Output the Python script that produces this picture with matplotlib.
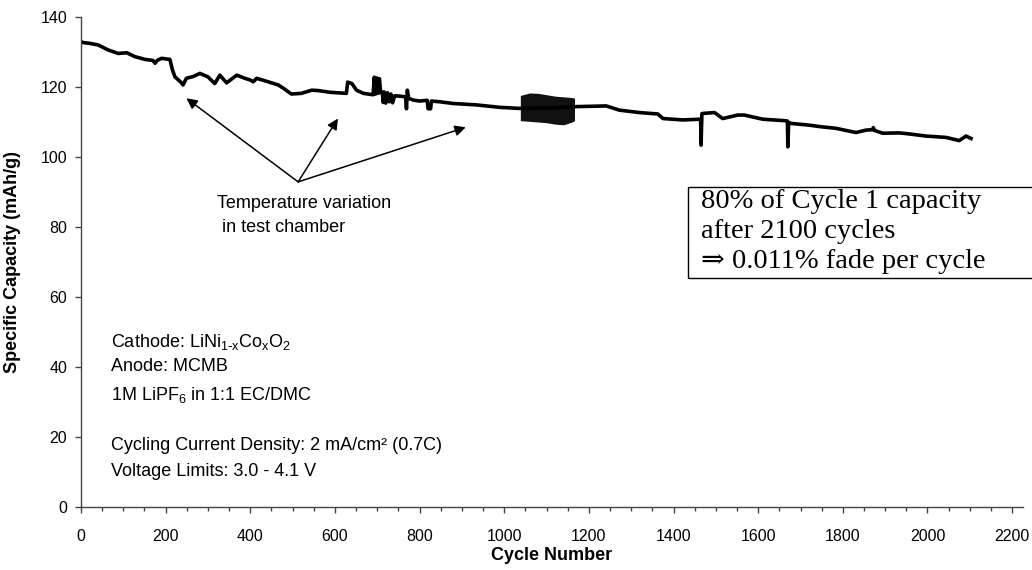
import matplotlib
matplotlib.use("Agg")
import matplotlib.pyplot as plt
from matplotlib.patches import Rectangle
from matplotlib.ticker import MultipleLocator

plt.rcParams['font.family'] = ['Liberation Sans', 'DejaVu Sans']
plt.rcParams['mathtext.default'] = 'regular'

# capacity trace (cycle, mAh/g); short excursions are the spikes
cycles = [0, 5, 20, 41, 64, 88, 108, 127, 151, 170, 175, 180, 190, 210, 216, 222, 235, 241,
          249, 265, 281, 300, 316, 328, 344, 368, 387, 400, 407, 415, 442, 466, 480, 497,
          521, 545, 560, 588, 627, 630, 640, 651, 667, 690, 693, 696, 699, 702, 705, 708,
          712, 714, 716, 720, 724, 728, 732, 736, 741, 753, 767, 769, 771, 774, 784, 800,
          818, 820, 826, 828, 847, 879, 934, 989, 1036, 1100, 1170, 1241, 1272, 1320, 1363,
          1375, 1422, 1461, 1464, 1465, 1467, 1473, 1497, 1516, 1552, 1567, 1611, 1662,
          1669, 1670, 1672, 1678, 1721, 1745, 1784, 1831, 1855, 1870, 1872, 1875, 1894,
          1933, 1957, 1996, 2044, 2075, 2091, 2103]
capacity = [133.0, 132.7, 132.5, 132.0, 130.6, 129.6, 129.8, 128.7, 127.9, 127.6, 126.8, 127.6,
            128.2, 127.9, 124.9, 122.9, 121.5, 120.6, 122.5, 123.0, 123.9, 122.9, 121.0, 123.4,
            121.2, 123.4, 122.5, 122.0, 121.5, 122.5, 121.5, 120.6, 119.5, 118.0, 118.2, 119.1,
            119.0, 118.5, 118.2, 121.4, 121.0, 119.1, 118.2, 117.8, 122.8, 118.0, 122.6, 118.2,
            122.4, 118.4, 118.5, 115.6, 118.6, 115.4, 118.4, 115.8, 118.0, 115.5, 117.5, 117.4,
            117.2, 113.8, 119.1, 116.8, 116.3, 116.0, 116.2, 113.8, 113.8, 116.0, 115.8, 115.3,
            114.9, 114.2, 113.9, 114.0, 114.4, 114.6, 113.4, 112.7, 112.3, 111.0, 110.6, 110.8,
            110.8, 103.4, 112.4, 112.5, 112.7, 111.0, 112.0, 112.0, 110.8, 110.4, 110.3, 102.9,
            109.9, 109.6, 109.1, 108.7, 108.2, 107.0, 107.7, 107.8, 108.4, 107.6, 106.8, 106.9,
            106.6, 106.0, 105.6, 104.7, 106.0, 105.3]

# dense oscillation band around cycle 1040-1166 (envelope)
band_cycles = [1038, 1060, 1080, 1100, 1120, 1140, 1160, 1166]
band_high = [117.6, 118.3, 118.2, 117.8, 117.4, 117.2, 117.0, 116.8]
band_low = [110.4, 110.2, 110.0, 109.8, 109.4, 109.2, 110.0, 110.4]

fig = plt.figure(figsize=(10.32, 5.70), dpi=100)
ax = fig.add_axes([0.0785, 0.1105, 0.9125, 0.8596])

ax.plot(cycles, capacity, color='black', lw=2.6)
ax.fill_between(band_cycles, band_low, band_high, color='#111111', lw=0)

ax.set_xlim(0, 2225)
ax.set_ylim(0, 140)
ax.xaxis.set_minor_locator(MultipleLocator(50))
ax.yaxis.set_major_locator(MultipleLocator(20))
ax.set_xticks(range(0, 2201, 200))
ax.spines['top'].set_visible(False)
ax.spines['right'].set_visible(False)
for s in ['left', 'bottom']:
    ax.spines[s].set_color('#444444')
    ax.spines[s].set_linewidth(1.0)
ax.tick_params(axis='x', which='major', length=4, width=1, color='#444444', pad=12, labelsize=11.5)
ax.tick_params(axis='x', which='minor', length=3, width=1, color='#444444')
ax.tick_params(axis='y', which='major', length=4, width=1, color='#444444', pad=6, labelsize=11.5)

ax.set_xlabel("Cycle Number", fontsize=13, fontweight='bold', labelpad=2)
ax.set_ylabel("Specific Capacity (mAh/g)", fontsize=13, fontweight='bold', labelpad=14)

# annotation about temperature variation
ax.text(321, 86.6, "Temperature variation", fontsize=13, va='center', ha='left')
ax.text(332, 80.0, "in test chamber", fontsize=13, va='center', ha='left')
for tip in [(249, 116.8), (607, 111.0), (909, 108.5)]:
    ax.annotate("", xy=tip, xytext=(513, 92.9),
                arrowprops=dict(arrowstyle='-|>', color='black', lw=1.1,
                                mutation_scale=16, shrinkA=0, shrinkB=0))

# cell info
info = [("Cathode: LiNi$_{1\\text{-}x}$Co$_x$O$_2$", 47.2),
        ("Anode: MCMB", 40.1),
        ("1M LiPF$_6$ in 1:1 EC/DMC", 32.0),
        ("Cycling Current Density: 2 mA/cm² (0.7C)", 17.7),
        ("Voltage Limits: 3.0 - 4.1 V", 10.1)]
for txt, yv in info:
    ax.text(71, yv, txt, fontsize=13, va='center', ha='left')

# fade box
ax.add_patch(Rectangle((1433, 65.4), 820, 26.1, fill=False, ec='black', lw=1.0, clip_on=False))
box_lines = [("80% of Cycle 1 capacity", 87.2),
             ("after 2100 cycles", 78.7),
             ("⇒ 0.011% fade per cycle", 70.1)]
for txt, yv in box_lines:
    ax.text(1465, yv, txt, fontsize=20.5, va='center', ha='left',
            family=['Liberation Serif', 'DejaVu Serif'])

fig.savefig("out.png", dpi=100)
